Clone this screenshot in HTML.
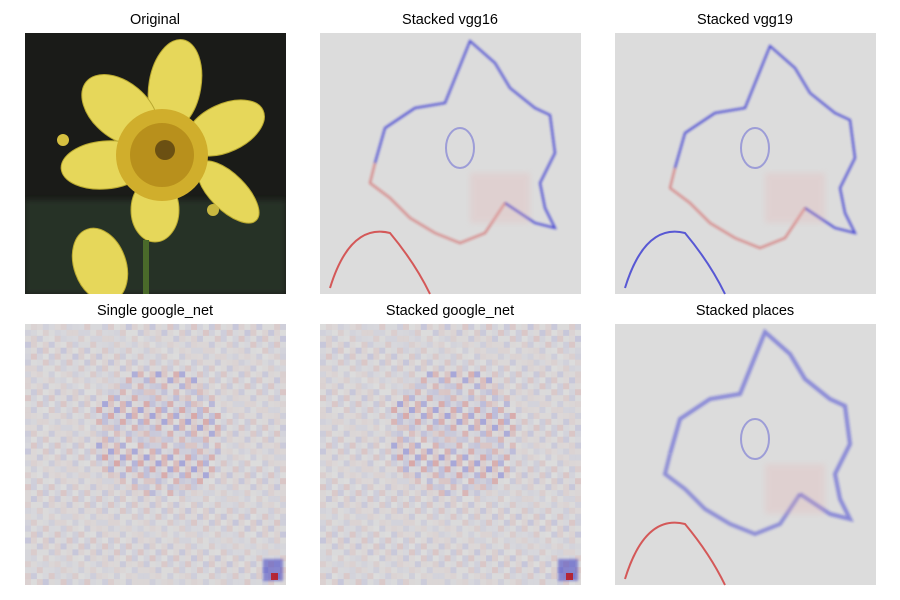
<!DOCTYPE html>
<html><head><meta charset="utf-8"><style>
body{margin:0;background:#fff;width:900px;height:600px;overflow:hidden;font-family:"Liberation Sans","DejaVu Sans",sans-serif}
svg{display:block}
</style></head><body>
<svg id="fig" width="900" height="600" xmlns="http://www.w3.org/2000/svg">
<defs>
<filter id="blur2"><feGaussianBlur stdDeviation="1.2"/></filter>
<filter id="blur4"><feGaussianBlur stdDeviation="3"/></filter>
<clipPath id="c0"><rect x="25" y="33" width="261" height="261"/></clipPath>
</defs>
<g font-size="14.5" fill="#000" text-anchor="middle">
<text x="155" y="24">Original</text>
<text x="450" y="24">Stacked vgg16</text>
<text x="745" y="24">Stacked vgg19</text>
<text x="155" y="315">Single google_net</text>
<text x="450" y="315">Stacked google_net</text>
<text x="745" y="315">Stacked places</text>
</g>
<g clip-path="url(#c0)">
<rect x="25" y="33" width="261" height="261" fill="#1a1b18"/>
<rect x="25" y="200" width="261" height="94" fill="#283026" filter="url(#blur4)"/>
<g fill="#e6d75a" stroke="#b8a830" stroke-width="1">
<ellipse cx="175" cy="85" rx="26" ry="46" transform="rotate(10 175 85)"/>
<ellipse cx="120" cy="110" rx="28" ry="44" transform="rotate(-50 120 110)"/>
<ellipse cx="105" cy="165" rx="24" ry="44" transform="rotate(-95 105 165)"/>
<ellipse cx="225" cy="128" rx="24" ry="42" transform="rotate(65 225 128)"/>
<ellipse cx="228" cy="192" rx="18" ry="40" transform="rotate(135 228 192)"/>
<ellipse cx="155" cy="210" rx="24" ry="32"/>
<ellipse cx="100" cy="265" rx="26" ry="38" transform="rotate(-20 100 265)"/>
</g>
<circle cx="162" cy="155" r="46" fill="#d0ae2c"/>
<circle cx="162" cy="155" r="32" fill="#b8901c"/>
<circle cx="165" cy="150" r="10" fill="#6b5012"/>
<circle cx="63" cy="140" r="6" fill="#d6c040"/>
<circle cx="213" cy="210" r="6" fill="#c9b840"/>
<rect x="143" y="240" width="6" height="54" fill="#4a6a2a"/>
</g>
<g id="panels"></g>
</svg>
<script>
var NS="http://www.w3.org/2000/svg";
var fig=document.getElementById('panels');
function mk(t,a,p){var e=document.createElementNS(NS,t);for(var k in a)e.setAttribute(k,a[k]);(p||fig).appendChild(e);return e;}
var outline=[[55,130],[65,95],[95,75],[125,70],[150,8],[175,30],[190,55],[215,75],[230,82],[235,120],[220,150],[225,175],[235,195],[215,190],[185,170],[165,200],[140,210],[115,200],[90,185],[70,165],[50,150],[55,130]];
function pathOf(pts,ox,oy){return pts.map(function(p,i){return (i?'L':'M')+(ox+p[0])+' '+(oy+p[1]);}).join(' ');}
function saliency(ox,oy,name,mirror,places){
  var g=mk('g',{});
  
  
  mk('rect',{x:ox,y:oy,width:261,height:261,fill:'#dcdcdc'},g);
  var pts=outline.map(function(p){return mirror?[p[0]+5,p[1]+5]:p;});
  var sw=places?4:2;
  mk('path',{d:pathOf(pts.slice(0,15),ox,oy),fill:'none',stroke:'#2020d0','stroke-width':sw,'stroke-opacity':places?0.45:0.8,filter:'url(#blur2)'},g);
  mk('path',{d:pathOf(pts.slice(14),ox,oy),fill:'none',stroke:places?'#4040d0':'#d02020','stroke-width':sw,'stroke-opacity':0.5,filter:'url(#blur2)'},g);
  mk('ellipse',{cx:ox+140,cy:oy+115,rx:14,ry:20,fill:'none',stroke:'#5050d0','stroke-width':2,'stroke-opacity':0.45},g);
  mk('path',{d:'M'+(ox+10)+' '+(oy+255)+' Q'+(ox+30)+' '+(oy+190)+' '+(ox+70)+' '+(oy+200)+' Q'+(ox+95)+' '+(oy+230)+' '+(ox+110)+' '+(oy+261),fill:'none',stroke:mirror&&!places?'#2020d0':'#d02020','stroke-width':2,'stroke-opacity':0.7},g);
  mk('rect',{x:ox+150,y:oy+140,width:60,height:50,fill:'#e8b0b0',opacity:0.25,filter:'url(#blur4)'},g);
}
saliency(320,33,'stacked-vgg16-map',false,false);
saliency(615,33,'stacked-vgg19-map',true,false);
saliency(615,324,'stacked-places-map',false,true);
function noisy(ox,oy,name){
  var g=mk('g',{});
  
  
  mk('rect',{x:ox,y:oy,width:261,height:261,fill:'#dcdcdc'},g);
  var n=44,c=261/n;
  for(var i=0;i<n;i++)for(var j=0;j<n;j++){
    var v=Math.sin(i*2.3+j*1.7)*Math.cos(i*0.9-j*2.1);
    var dx=i-22,dy=j-18,r=Math.sqrt(dx*dx+dy*dy);
    var a=Math.abs(v)*(r<11?0.35:0.14);
    mk('rect',{x:ox+i*c,y:oy+j*c,width:c,height:c,fill:v>0?'#d04040':'#4040d0',opacity:a.toFixed(2)},g);
  }
  mk('rect',{x:ox+238,y:oy+235,width:20,height:22,fill:'#2020c0',opacity:0.45,filter:'url(#blur2)'},g);
  mk('rect',{x:ox+246,y:oy+249,width:7,height:7,fill:'#c01010',opacity:0.8},g);
}
noisy(25,324,'single-google-net-map');
noisy(320,324,'stacked-google-net-map');
</script>
</body></html>
